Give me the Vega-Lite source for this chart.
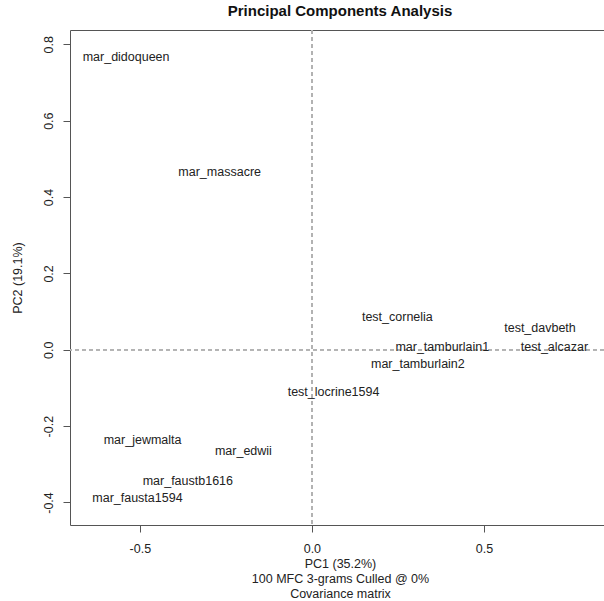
{
  "$schema": "https://vega.github.io/schema/vega-lite/v6.json",
  "width": 534,
  "height": 495,
  "autosize": {"type": "none"},
  "padding": {"left": 70, "top": 30, "right": 0, "bottom": 76},
  "background": "white",
  "title": {"text": "Principal Components Analysis", "fontSize": 15, "font": "Liberation Sans", "fontWeight": "bold", "anchor": "middle", "baseline": "alphabetic", "offset": 13, "dy": 14, "dx": 3, "color": "#111"},
  "config": {"view": {"stroke": null}, "font": "Liberation Sans"},
  "data": {"values": [
    {"label": "mar_didoqueen", "pc1": -0.540, "pc2": 0.767},
    {"label": "mar_massacre", "pc1": -0.268, "pc2": 0.466},
    {"label": "test_cornelia", "pc1": 0.2485, "pc2": 0.085},
    {"label": "test_davbeth", "pc1": 0.663, "pc2": 0.0576},
    {"label": "mar_tamburlain1", "pc1": 0.379, "pc2": 0.008},
    {"label": "test_alcazar", "pc1": 0.705, "pc2": 0.008},
    {"label": "mar_tamburlain2", "pc1": 0.308, "pc2": -0.038},
    {"label": "test_locrine1594", "pc1": 0.063, "pc2": -0.110},
    {"label": "mar_jewmalta", "pc1": -0.492, "pc2": -0.2365},
    {"label": "mar_edwii", "pc1": -0.199, "pc2": -0.2645},
    {"label": "mar_faustb1616", "pc1": -0.3605, "pc2": -0.343},
    {"label": "mar_fausta1594", "pc1": -0.507, "pc2": -0.388}
  ]},
  "layer": [
    {
      "mark": {"type": "rule", "strokeDash": [4, 3], "color": "#b3b3b3", "strokeWidth": 1},
      "encoding": {
        "x": {"datum": 0, "type": "quantitative", "scale": {"domain": [-0.703, 0.849], "nice": false, "zero": false},
          "axis": {"orient": "top", "labels": false, "ticks": false, "title": null, "grid": false, "domain": true, "domainColor": "#555555", "domainWidth": 1}}
      }
    },
    {
      "mark": {"type": "rule", "strokeDash": [4, 3], "color": "#b3b3b3", "strokeWidth": 1},
      "encoding": {
        "y": {"datum": 0, "type": "quantitative", "scale": {"domain": [-0.459, 0.8375], "nice": false, "zero": false},
          "axis": {"orient": "left", "values": [-0.4, -0.2, 0, 0.2, 0.4, 0.6, 0.8], "labelExpr": "replace(format(datum.value, '.1f'), '\u2212', '-')",
            "grid": false, "tickSize": 7, "tickColor": "#555555", "domainColor": "#555555", "labelFontSize": 12.5, "labelColor": "#222222",
            "labelAngle": -90, "labelAlign": "center", "labelBaseline": "alphabetic", "labelPadding": 11, "labelFont": "Liberation Sans",
            "title": "PC2 (19.1%)", "titleFontSize": 12.5, "titleFontWeight": "normal", "titleColor": "#222222", "titlePadding": 18, "titleFont": "Liberation Sans"}}
      }
    },
    {
      "mark": {"type": "text", "fontSize": 12.5, "align": "center", "baseline": "middle", "color": "#222222", "font": "Liberation Sans"},
      "encoding": {
        "text": {"field": "label", "type": "nominal"},
        "x": {"field": "pc1", "type": "quantitative", "scale": {"domain": [-0.703, 0.849], "nice": false, "zero": false},
          "axis": {"orient": "bottom", "values": [-0.5, 0, 0.5], "labelExpr": "replace(format(datum.value, '.1f'), '\u2212', '-')",
            "grid": false, "tickSize": 7, "tickColor": "#555555", "domainColor": "#555555", "labelFontSize": 12.5, "labelColor": "#222222",
            "labelPadding": 10, "labelFont": "Liberation Sans",
            "title": ["PC1 (35.2%)", "100 MFC 3-grams Culled @ 0%", "Covariance matrix"], "titleFontSize": 12.5, "titleFontWeight": "normal",
            "titleColor": "#222222", "titleLineHeight": 15, "titlePadding": 3, "titleFont": "Liberation Sans", "titleX": 270}},
        "y": {"field": "pc2", "type": "quantitative", "scale": {"domain": [-0.459, 0.8375], "nice": false, "zero": false},
          "axis": {"orient": "left", "values": [-0.4, -0.2, 0, 0.2, 0.4, 0.6, 0.8], "labelExpr": "replace(format(datum.value, '.1f'), '\u2212', '-')",
            "grid": false, "tickSize": 7, "tickColor": "#555555", "domainColor": "#555555", "labelFontSize": 12.5, "labelColor": "#222222",
            "labelAngle": -90, "labelAlign": "center", "labelBaseline": "alphabetic", "labelPadding": 11, "labelFont": "Liberation Sans",
            "title": "PC2 (19.1%)", "titleFontSize": 12.5, "titleFontWeight": "normal", "titleColor": "#222222", "titlePadding": 18, "titleFont": "Liberation Sans"}}
      }
    }
  ],
  "resolve": {"axis": {"x": "independent"}}
}
